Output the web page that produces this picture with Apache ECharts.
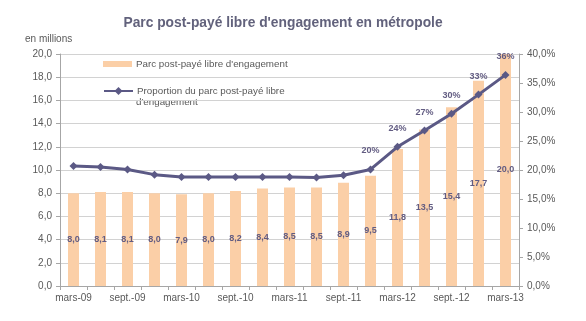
<!DOCTYPE html>
<html>
<head>
<meta charset="utf-8">
<script src="https://cdn.jsdelivr.net/npm/echarts@6/dist/echarts.min.js"></script>
<style>
  html, body { margin: 0; padding: 0; background: #ffffff; }
  #chart { width: 586px; height: 321px; }
</style>
</head>
<body>
<div id="chart"></div>
<script>
// Quarterly periods, March 2009 to March 2013
const categories = ['mars-09', 'juin-09', 'sept.-09', 'déc.-09', 'mars-10', 'juin-10', 'sept.-10', 'déc.-10',
  'mars-11', 'juin-11', 'sept.-11', 'déc.-11', 'mars-12', 'juin-12', 'sept.-12', 'déc.-12', 'mars-13'];
// Post-paid no-commitment base, in millions
const parcMillions = [8.0, 8.1, 8.1, 8.0, 7.9, 8.0, 8.2, 8.4, 8.5, 8.5, 8.9, 9.5, 11.8, 13.5, 15.4, 17.7, 20.0];
// Share of the post-paid base, in percent
const proportionPct = [20.7, 20.5, 20.1, 19.2, 18.8, 18.8, 18.8, 18.8, 18.8, 18.7, 19.1, 20.1, 24.0, 26.8, 29.7, 33.0, 36.4];
// Points from which the share label is displayed
const firstLabelledIndex = 11;

const barName = "Parc post-payé libre d'engagement";
const lineName = "Proportion du parc post-payé libre d'engagement";

const purple = '#5b5985';
const labelPurple = '#625c82';
const peach = '#fbcfa7';
const axisGrey = '#a6a6a6';
const textGrey = '#595959';
const fontFamily = '"Liberation Sans", Arial, sans-serif';

const fr1 = v => v.toFixed(1).replace('.', ',');

const chart = echarts.init(document.getElementById('chart'), null, { renderer: 'canvas' });
chart.setOption({
  animation: false,
  backgroundColor: '#ffffff',
  textStyle: { fontFamily },
  title: {
    text: "Parc post-payé libre d'engagement en métropole",
    left: 278, top: 11, textAlign: 'center',
    textStyle: { fontSize: 13.8, fontWeight: 'bold', color: '#62627c', fontFamily }
  },
  graphic: [{
    type: 'text', left: 25, top: 34,
    style: { text: 'en millions', fontSize: 10, fill: textGrey, fontFamily }
  }, {
    // second line of the share legend entry
    type: 'text', left: 136, top: 97,
    style: { text: "d'engagement", fontSize: 9.8, fill: textGrey, fontFamily }
  }],
  legend: [{
    data: [{ name: barName, icon: 'rect' }],
    left: 103, top: 59, padding: 0, itemWidth: 29, itemHeight: 6, itemGap: 4,
    textStyle: { fontSize: 9.8, color: textGrey, fontFamily, padding: [0, 0, 0, -1] }
  }, {
    data: [{ name: lineName }],
    formatter: () => 'Proportion du parc post-payé libre',
    left: 103, top: 86, padding: 0, itemWidth: 29, itemHeight: 10,
    textStyle: { fontSize: 9.8, color: textGrey, fontFamily, padding: [0, 0, 0, -1] }
  }],
  grid: { left: 60, right: 67, top: 54, bottom: 35, containLabel: false },
  xAxis: {
    type: 'category',
    data: categories,
    boundaryGap: true,
    axisLine: { lineStyle: { color: axisGrey } },
    axisTick: { show: true, interval: 0, length: 4, lineStyle: { color: axisGrey } },
    axisLabel: { interval: 1, fontSize: 10, color: textGrey, margin: 7, fontFamily }
  },
  yAxis: [{
    type: 'value', min: 0, max: 20, interval: 2,
    axisLine: { show: true, lineStyle: { color: axisGrey } },
    axisTick: { show: true, length: 4, lineStyle: { color: axisGrey } },
    axisLabel: { formatter: v => fr1(v), fontSize: 10, color: textGrey, margin: 8, fontFamily },
    splitLine: { lineStyle: { color: '#d2d2d2', width: 1 } }
  }, {
    type: 'value', min: 0, max: 40, interval: 5, position: 'right',
    axisLine: { show: true, lineStyle: { color: axisGrey } },
    axisTick: { show: true, length: 4, lineStyle: { color: axisGrey } },
    axisLabel: { formatter: v => fr1(v) + '%', fontSize: 10, color: textGrey, margin: 8, fontFamily },
    splitLine: { show: false }
  }],
  series: [{
    name: barName,
    type: 'bar',
    yAxisIndex: 0,
    data: parcMillions,
    barWidth: 11,
    itemStyle: { color: peach },
    label: {
      show: true, position: 'inside',
      formatter: p => fr1(p.value),
      fontSize: 9, fontWeight: 'bold', color: labelPurple, fontFamily
    },
    z: 2
  }, {
    name: lineName,
    type: 'line',
    yAxisIndex: 1,
    data: proportionPct.map((v, i) => ({
      value: v,
      label: { show: i >= firstLabelledIndex }
    })),
    symbol: 'diamond',
    symbolSize: 8,
    lineStyle: { color: purple, width: 3 },
    itemStyle: { color: purple },
    label: {
      position: 'top', distance: 10,
      formatter: p => Math.round(p.value) + '%',
      fontSize: 9, fontWeight: 'bold', color: labelPurple, fontFamily
    },
    z: 5
  }]
});
</script>
</body>
</html>
